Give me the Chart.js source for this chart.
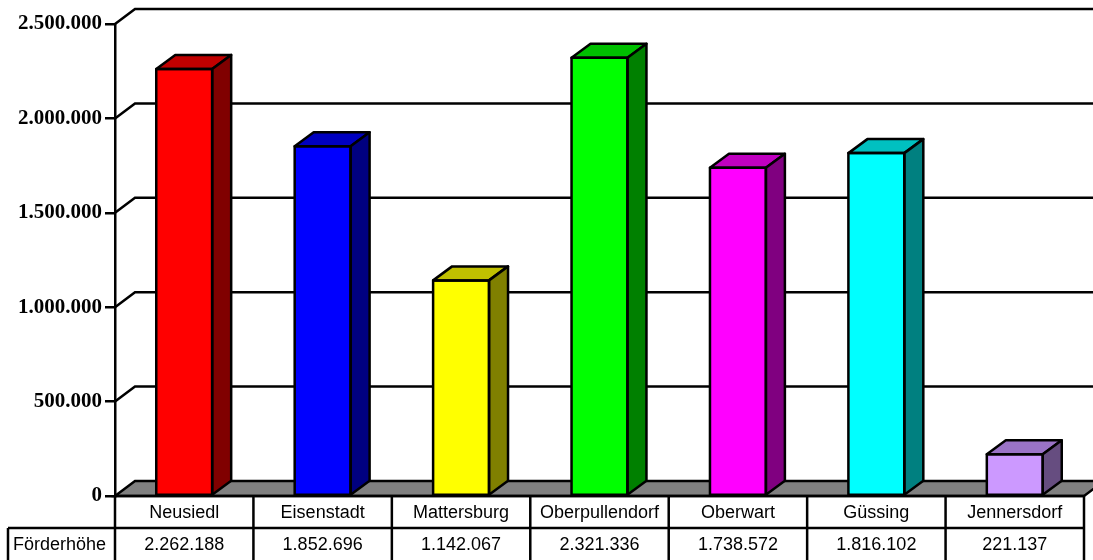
<!DOCTYPE html>
<html>
<head>
<meta charset="utf-8">
<script src="https://cdn.jsdelivr.net/npm/chart.js@4.4.1/dist/chart.umd.min.js"></script>
<style>
  html, body { margin: 0; padding: 0; background: #fff; }
  #wrap { width: 1093px; height: 560px; }
</style>
</head>
<body>
<div id="wrap"><canvas id="grafico" width="1093" height="560"></canvas></div>
<script>
// Bezirke und Förderhöhe
const bezirke = ['Neusiedl', 'Eisenstadt', 'Mattersburg', 'Oberpullendorf', 'Oberwart', 'Güssing', 'Jennersdorf'];
const foerderhoehe = [2262188, 1852696, 1142067, 2321336, 1738572, 1816102, 221137];
const yTicks = [0, 500000, 1000000, 1500000, 2000000, 2500000];

// Farben: Vorderseite, Oberseite, Seitenfläche
const farbeFront = ['#ff0000', '#0000ff', '#ffff00', '#00ff00', '#ff00ff', '#00ffff', '#cc99ff'];
const farbeOben = ['#c00000', '#0000c0', '#c0c000', '#00c000', '#c000c0', '#00c0c0', '#9a73c6'];
const farbeSeite = ['#800000', '#000080', '#808000', '#008000', '#800080', '#008080', '#664d80'];

const tiefeX = 20, tiefeY = 15;   // Rückwand
const barX = 19, barY = 14;       // Säulentiefe
const strich = 2.5;

function fmt(v) {
    return String(v).replace(/\B(?=(\d{3})+(?!\d))/g, '.');
}

// Rückwand mit Gitterlinien und grauer Boden
const wandPlugin = {
    id: 'wand',
    beforeDatasetsDraw(chart) {
        const c = chart.ctx, a = chart.chartArea, y = chart.scales.y;
        const rechts = chart.width + 30;
        c.save();
        c.strokeStyle = '#000';
        c.lineWidth = strich;
        // Boden
        const y0 = y.getPixelForValue(0);
        c.fillStyle = '#808080';
        c.beginPath();
        c.moveTo(a.left, y0);
        c.lineTo(a.left + tiefeX, y0 - tiefeY);
        c.lineTo(a.right + tiefeX, y0 - tiefeY);
        c.lineTo(a.right, y0);
        c.closePath();
        c.fill();
        c.stroke();
        yTicks.forEach(v => {
            if (v === 0) return;
            const py = y.getPixelForValue(v);
            c.beginPath();
            c.moveTo(a.left, py);
            c.lineTo(a.left + tiefeX, py - tiefeY);
            c.lineTo(rechts, py - tiefeY);
            c.stroke();
        });
        c.restore();
    },
    afterDatasetsDraw(chart) {
        const c = chart.ctx;
        const meta = chart.getDatasetMeta(0);
        c.save();
        c.strokeStyle = '#000';
        c.lineWidth = strich;
        c.lineJoin = 'round';
        meta.data.forEach((bar, i) => {
            const l = bar.x - bar.width / 2, r = bar.x + bar.width / 2;
            const t = bar.y, b = bar.base;
            // Oberseite
            c.fillStyle = farbeOben[i];
            c.beginPath();
            c.moveTo(l, t);
            c.lineTo(l + barX, t - barY);
            c.lineTo(r + barX, t - barY);
            c.lineTo(r, t);
            c.closePath();
            c.fill();
            c.stroke();
            // Seitenfläche
            c.fillStyle = farbeSeite[i];
            c.beginPath();
            c.moveTo(r, t);
            c.lineTo(r + barX, t - barY);
            c.lineTo(r + barX, b - barY);
            c.lineTo(r, b);
            c.closePath();
            c.fill();
            c.stroke();
            // Vorderseite Rahmen
            c.strokeRect(l, t, r - l, b - t);
        });
        c.restore();
    },
    // Datentabelle unter dem Diagramm
    afterDraw(chart) {
        const c = chart.ctx, a = chart.chartArea;
        const y0 = chart.scales.y.getPixelForValue(0);
        const zeile = 32;
        const breite = (a.right - a.left) / bezirke.length;
        const links = 8;
        c.save();
        c.strokeStyle = '#000';
        c.lineWidth = strich;
        c.beginPath();
        c.moveTo(a.left, y0); c.lineTo(a.right, y0);
        c.moveTo(links, y0 + zeile); c.lineTo(a.right, y0 + zeile);
        c.moveTo(links, y0 + zeile); c.lineTo(links, chart.height);
        for (let i = 0; i <= bezirke.length; i++) {
            const x = a.left + i * breite;
            c.moveTo(x, y0); c.lineTo(x, chart.height);
        }
        c.stroke();
        c.fillStyle = '#000';
        c.font = '18px "Liberation Sans", Arial, sans-serif';
        c.textBaseline = 'middle';
        c.textAlign = 'center';
        bezirke.forEach((name, i) => {
            const x = a.left + (i + 0.5) * breite;
            c.fillText(name, x, y0 + zeile / 2 + 1);
            c.fillText(fmt(foerderhoehe[i]), x, y0 + zeile * 1.5 + 1);
        });
        c.textAlign = 'left';
        c.fillText('Förderhöhe', links + 5, y0 + zeile * 1.5 + 1);
        c.restore();
    }
};

new Chart(document.getElementById('grafico'), {
    type: 'bar',
    data: {
        labels: bezirke,
        datasets: [{
            label: 'Förderhöhe',
            data: foerderhoehe,
            backgroundColor: farbeFront,
            borderWidth: 0,
            barPercentage: 0.404,
            categoryPercentage: 1
        }]
    },
    options: {
        responsive: false,
        animation: false,
        devicePixelRatio: 1,
        layout: { padding: { top: 24, bottom: 64, right: 9, left: 0 } },
        plugins: { legend: { display: false }, tooltip: { enabled: false } },
        scales: {
            x: { display: false },
            y: {
                min: 0,
                max: 2500000,
                afterFit(scale) { scale.width = 115; },
                afterBuildTicks(scale) { scale.ticks = yTicks.map(v => ({ value: v })); },
                ticks: {
                    color: '#000',
                    padding: 3,
                    font: { family: '"Liberation Serif", "Times New Roman", serif', weight: 'bold', size: 21 },
                    callback: v => fmt(v)
                },
                grid: { drawOnChartArea: false, drawTicks: true, tickLength: 10, color: '#000', lineWidth: strich },
                border: { display: true, color: '#000', width: strich }
            }
        }
    },
    plugins: [wandPlugin]
});
</script>
</body>
</html>
